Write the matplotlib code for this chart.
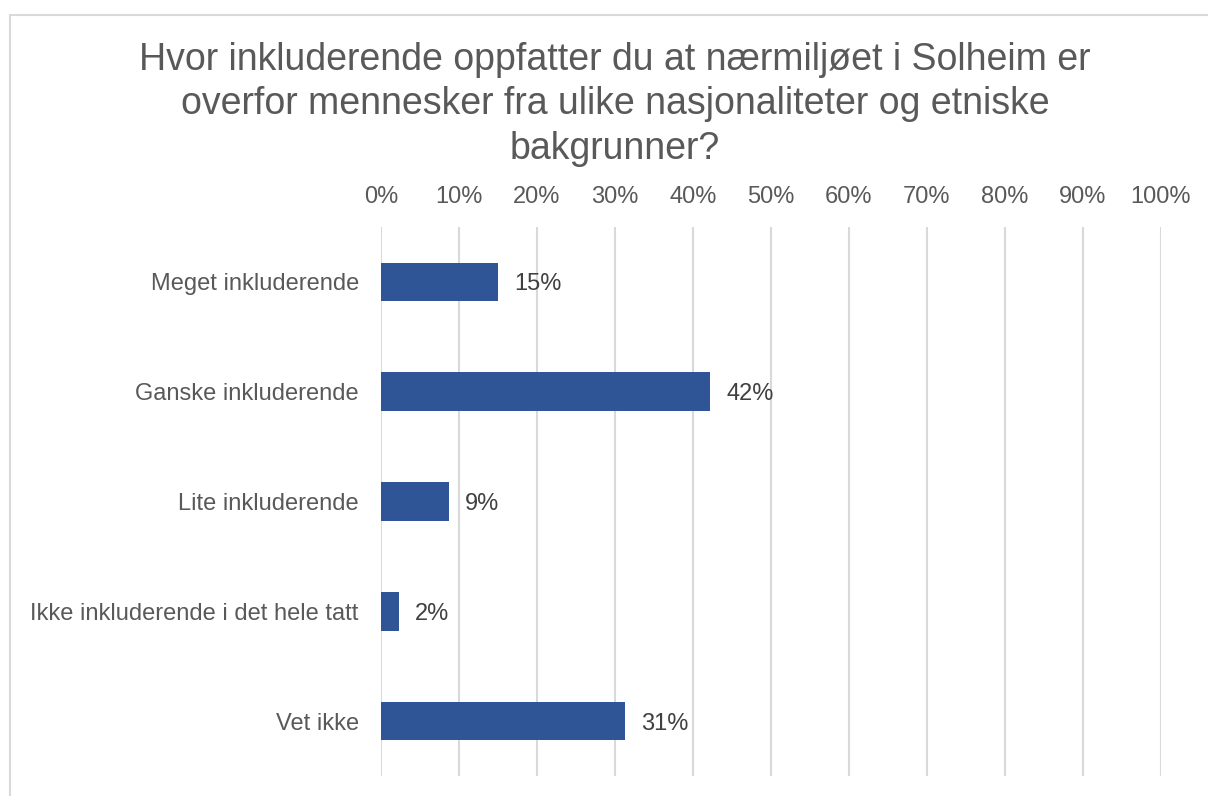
import matplotlib
matplotlib.use("Agg")
import matplotlib.pyplot as plt
import matplotlib.patches as patches
import numpy as np

# Data
categories = ["Meget inkluderende", "Ganske inkluderende", "Lite inkluderende",
              "Ikke inkluderende i det hele tatt", "Vet ikke"]
shares = [15.0, 42.2, 8.7, 2.3, 31.3]
share_labels = ["15%", "42%", "9%", "2%", "31%"]
tick_values = list(range(0, 101, 10))
tick_labels = [f"{v}%" for v in tick_values]
title = ("Hvor inkluderende oppfatter du at nærmiljøet i Solheim er\n"
         "overfor mennesker fra ulike nasjonaliteter og etniske\n"
         "bakgrunner?")

plt.rcParams['font.family'] = ['Liberation Sans', 'DejaVu Sans']

W, H = 1208, 796
fig = plt.figure(figsize=(W / 100, H / 100), dpi=100)
ax = fig.add_axes([381 / W, 1 - 776 / H, (1161 - 381) / W, (776 - 227) / H])

text_col = "#595959"
bar_col = "#2F5597"
grid_col = "#D9D9D9"

# Chart border (crop of a larger chart frame)
fig.patches.append(patches.Rectangle((10 / W, -0.2), 1.5, 1.2 - 15 / H,
                                     transform=fig.transFigure, fill=False,
                                     edgecolor=grid_col, linewidth=1.5))

y = np.arange(len(categories))
ax.barh(y, shares, height=0.35, color=bar_col, zorder=3)

for yi, v, lab in zip(y, shares, share_labels):
    ax.text(v + 2.1, yi, lab, va="center_baseline", ha="left", fontsize=17,
            color="#404040")

ax.set_xlim(0, 100)
ax.set_ylim(len(categories) - 0.5, -0.5)
ax.set_xticks(tick_values)
ax.set_xticklabels(tick_labels)
ax.set_yticks(y)
ax.set_yticklabels(categories)
ax.xaxis.tick_top()
ax.tick_params(axis="x", length=0, pad=14, labelsize=17, labelcolor=text_col)
ax.tick_params(axis="y", length=0, pad=16, labelsize=17, labelcolor=text_col)
ax.xaxis.grid(True, color=grid_col, linewidth=1.5)
ax.set_axisbelow(True)
for s in ax.spines.values():
    s.set_visible(False)

fig.text(615 / W, 1 - 42 / H, title, ha="center", va="top", fontsize=27,
         color=text_col, linespacing=1.3)

fig.savefig("out.png", dpi=100)
